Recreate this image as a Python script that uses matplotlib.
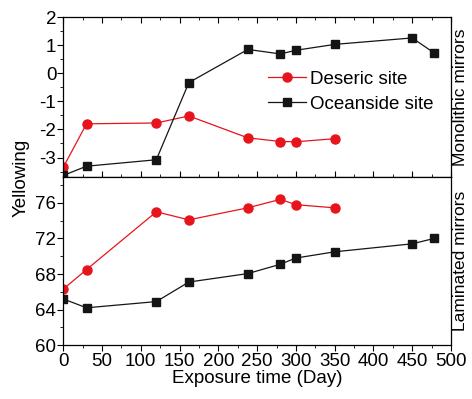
import matplotlib
matplotlib.use("Agg")
import matplotlib.pyplot as plt
from matplotlib.ticker import MultipleLocator

plt.rcParams['font.family'] = ['Liberation Sans Narrow', 'Liberation Sans', 'DejaVu Sans']
plt.rcParams['axes.unicode_minus'] = False

# exposure days
days_d = [0, 30, 120, 162, 238, 280, 300, 350]
days_o = [0, 30, 120, 162, 238, 280, 300, 350, 450, 478]

# monolithic mirrors (top)
mono_deseric = [-3.35, -1.8, -1.77, -1.52, -2.3, -2.43, -2.44, -2.33]
mono_ocean = [-3.64, -3.31, -3.08, -0.33, 0.85, 0.69, 0.82, 1.03, 1.26, 0.73]

# laminated mirrors (bottom)
lam_deseric = [66.3, 68.5, 75.0, 74.1, 75.45, 76.4, 75.8, 75.45]
lam_ocean = [65.2, 64.2, 64.9, 67.1, 68.05, 69.1, 69.8, 70.5, 71.4, 72.0]

red = '#e8141c'
blk = '#151515'
fs = 13.5

fig = plt.figure(figsize=(4.72, 3.99), dpi=100)
ax1 = fig.add_axes([0.134, 0.556, 0.8215, 0.401])
ax2 = fig.add_axes([0.134, 0.135, 0.8215, 0.421])

# top panel
ax1.plot(days_d, mono_deseric, '-o', color=red, lw=0.9, ms=6.5, label='Deseric site')
ax1.plot(days_o, mono_ocean, '-s', color=blk, lw=0.9, ms=5.5, label='Oceanside site')
ax1.set_xlim(0, 500)
ax1.set_ylim(-3.7, 2)
ax1.yaxis.set_major_locator(MultipleLocator(1))
ax1.yaxis.set_minor_locator(MultipleLocator(0.5))
ax1.xaxis.set_major_locator(MultipleLocator(50))
ax1.xaxis.set_minor_locator(MultipleLocator(25))
ax1.tick_params(axis='x', which='both', direction='in', labelbottom=False, top=True)
ax1.tick_params(axis='y', which='both', direction='out', right=False, labelsize=fs, pad=1)
ax1.tick_params(which='major', length=4)
ax1.tick_params(which='minor', length=2.5)
ax1.legend(loc='upper left', bbox_to_anchor=(0.5, 0.735), frameon=False, fontsize=fs,
           handlelength=2.0, handletextpad=0.2, borderpad=0.1, labelspacing=0.4)
ax1.text(1.006, 0.5, 'Monolithic mirrors', transform=ax1.transAxes, rotation=90,
         ha='left', va='center', fontsize=12.5)

# bottom panel
ax2.plot(days_d, lam_deseric, '-o', color=red, lw=0.9, ms=6.5)
ax2.plot(days_o, lam_ocean, '-s', color=blk, lw=0.9, ms=5.5)
ax2.set_xlim(0, 500)
ax2.set_ylim(60, 78.9)
ax2.yaxis.set_major_locator(MultipleLocator(4))
ax2.yaxis.set_minor_locator(MultipleLocator(2))
ax2.xaxis.set_major_locator(MultipleLocator(50))
ax2.xaxis.set_minor_locator(MultipleLocator(25))
ax2.tick_params(axis='x', which='both', direction='out', labelsize=fs, pad=2)
ax2.tick_params(axis='y', which='both', direction='out', labelsize=fs, pad=1)
ax2.tick_params(which='major', length=4)
ax2.tick_params(which='minor', length=2.5)
ax2.set_xlabel('Exposure time (Day)', fontsize=fs, labelpad=0)
ax2.text(1.006, 0.5, 'Laminated mirrors', transform=ax2.transAxes, rotation=90,
         ha='left', va='center', fontsize=12.5)

for ax in (ax1, ax2):
    for sp in ax.spines.values():
        sp.set_linewidth(0.9)

fig.text(0.045, 0.555, 'Yellowing', rotation=90, ha='center', va='center', fontsize=fs)

fig.savefig('out.png', dpi=100)
